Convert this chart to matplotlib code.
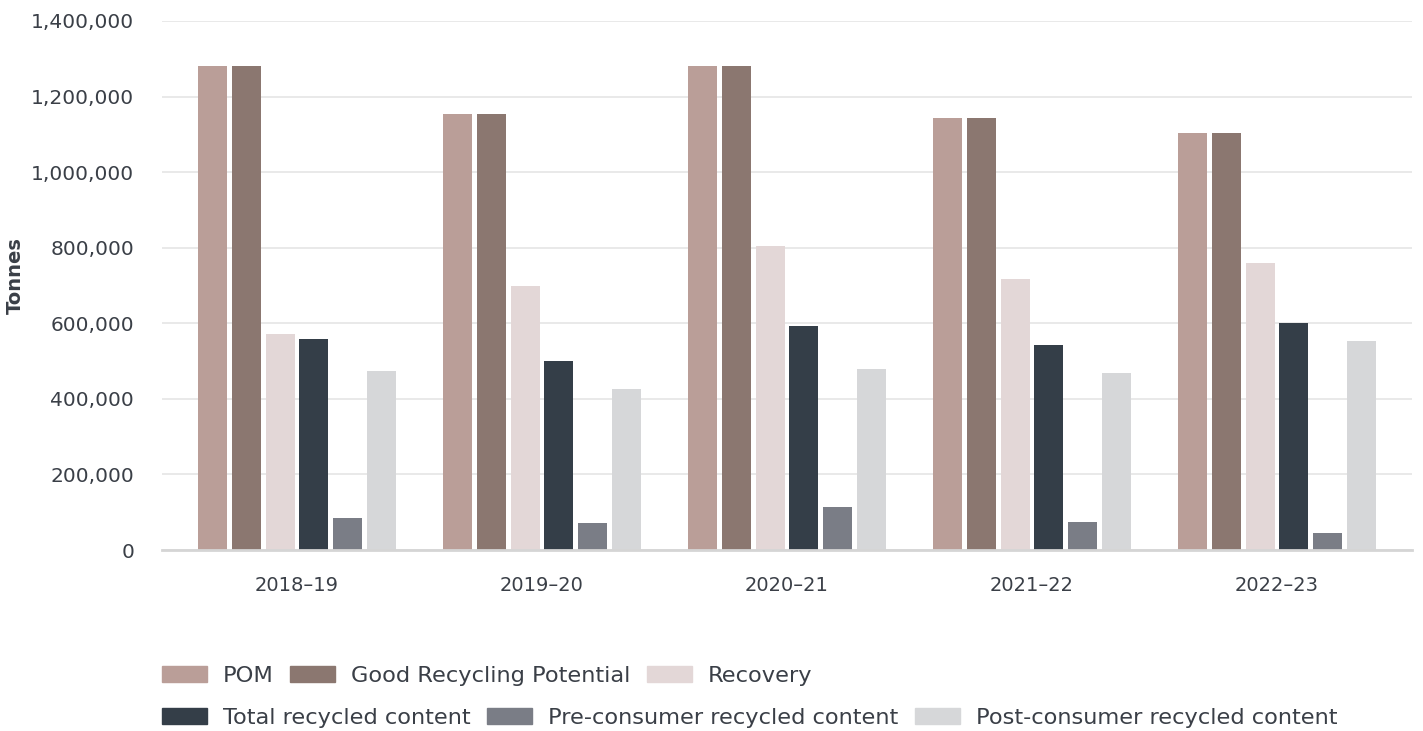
import numpy as np
import matplotlib
matplotlib.use('Agg')
import matplotlib.pyplot as plt
from matplotlib.ticker import FuncFormatter
from matplotlib.patches import Patch

years = ['2018\u201319', '2019\u201320', '2020\u201321', '2021\u201322', '2022\u201323']
series = ['POM', 'Good Recycling Potential', 'Recovery',
          'Total recycled content', 'Pre-consumer recycled content', 'Post-consumer recycled content']
pom = [1281000, 1154000, 1281000, 1143000, 1103000]
good_recycling = [1281000, 1154000, 1281000, 1143000, 1103000]
recovery = [572000, 699000, 804000, 717000, 759000]
total_recycled = [558000, 500000, 593000, 542000, 600000]
pre_consumer = [85000, 71000, 114000, 74000, 45000]
post_consumer = [474000, 426000, 479000, 468000, 553000]

colors = ['#BA9E98', '#8B7770', '#E3D7D7', '#343E48', '#7A7D86', '#D6D7D9']
text_col = '#3A3F47'

plt.rcParams['font.family'] = ['DejaVu Sans']

fig = plt.figure(figsize=(14.23, 7.31), dpi=100)
ax = fig.add_axes([0.1138, 0.2476, 0.8785, 0.7237])

x = np.arange(len(years))
width = 0.118
pitch = 0.1376
for i, vals in enumerate([pom, good_recycling, recovery, total_recycled, pre_consumer, post_consumer]):
    ax.bar(x + (i - 2.5) * pitch, vals, width, color=colors[i], zorder=3)

ax.set_ylim(0, 1400000)
ax.set_xlim(-0.551, 4.551)
ax.set_yticks(range(0, 1400001, 200000))
ax.yaxis.set_major_formatter(FuncFormatter(lambda v, p: f'{int(v):,}'))
ax.set_xticks(x)
ax.set_xticklabels(years)
ax.tick_params(axis='y', length=0, pad=20, labelsize=14.5, labelcolor=text_col)
ax.tick_params(axis='x', length=0, pad=19, labelsize=14, labelcolor=text_col)
ax.grid(axis='y', color='#E5E5E5', linewidth=1.2, zorder=0)
for s in ['top', 'right', 'left']:
    ax.spines[s].set_visible(False)
ax.spines['bottom'].set_color('#D5D5D5')
ax.spines['bottom'].set_linewidth(2)
ax.spines['bottom'].set_zorder(4)
fig.text(15 / 1423, 1 - 276 / 731, 'Tonnes', rotation=90, fontsize=14, fontweight='bold',
         color=text_col, ha='center', va='center')

handles = [Patch(color=c) for c in colors]
leg_kw = dict(frameon=False, ncol=3, fontsize=16.2, handlelength=2.0, handleheight=0.68,
              handletextpad=0.72, columnspacing=0.72, labelcolor=text_col, borderaxespad=0,
              borderpad=0)
leg1 = fig.legend(handles[:3], series[:3], loc='center left',
                  bbox_to_anchor=(162 / 1423, 1 - 676 / 731), **leg_kw)
leg2 = fig.legend(handles[3:], series[3:], loc='center left',
                  bbox_to_anchor=(162 / 1423, 1 - 718 / 731), **leg_kw)

fig.savefig('out.png', dpi=100, facecolor='white')
